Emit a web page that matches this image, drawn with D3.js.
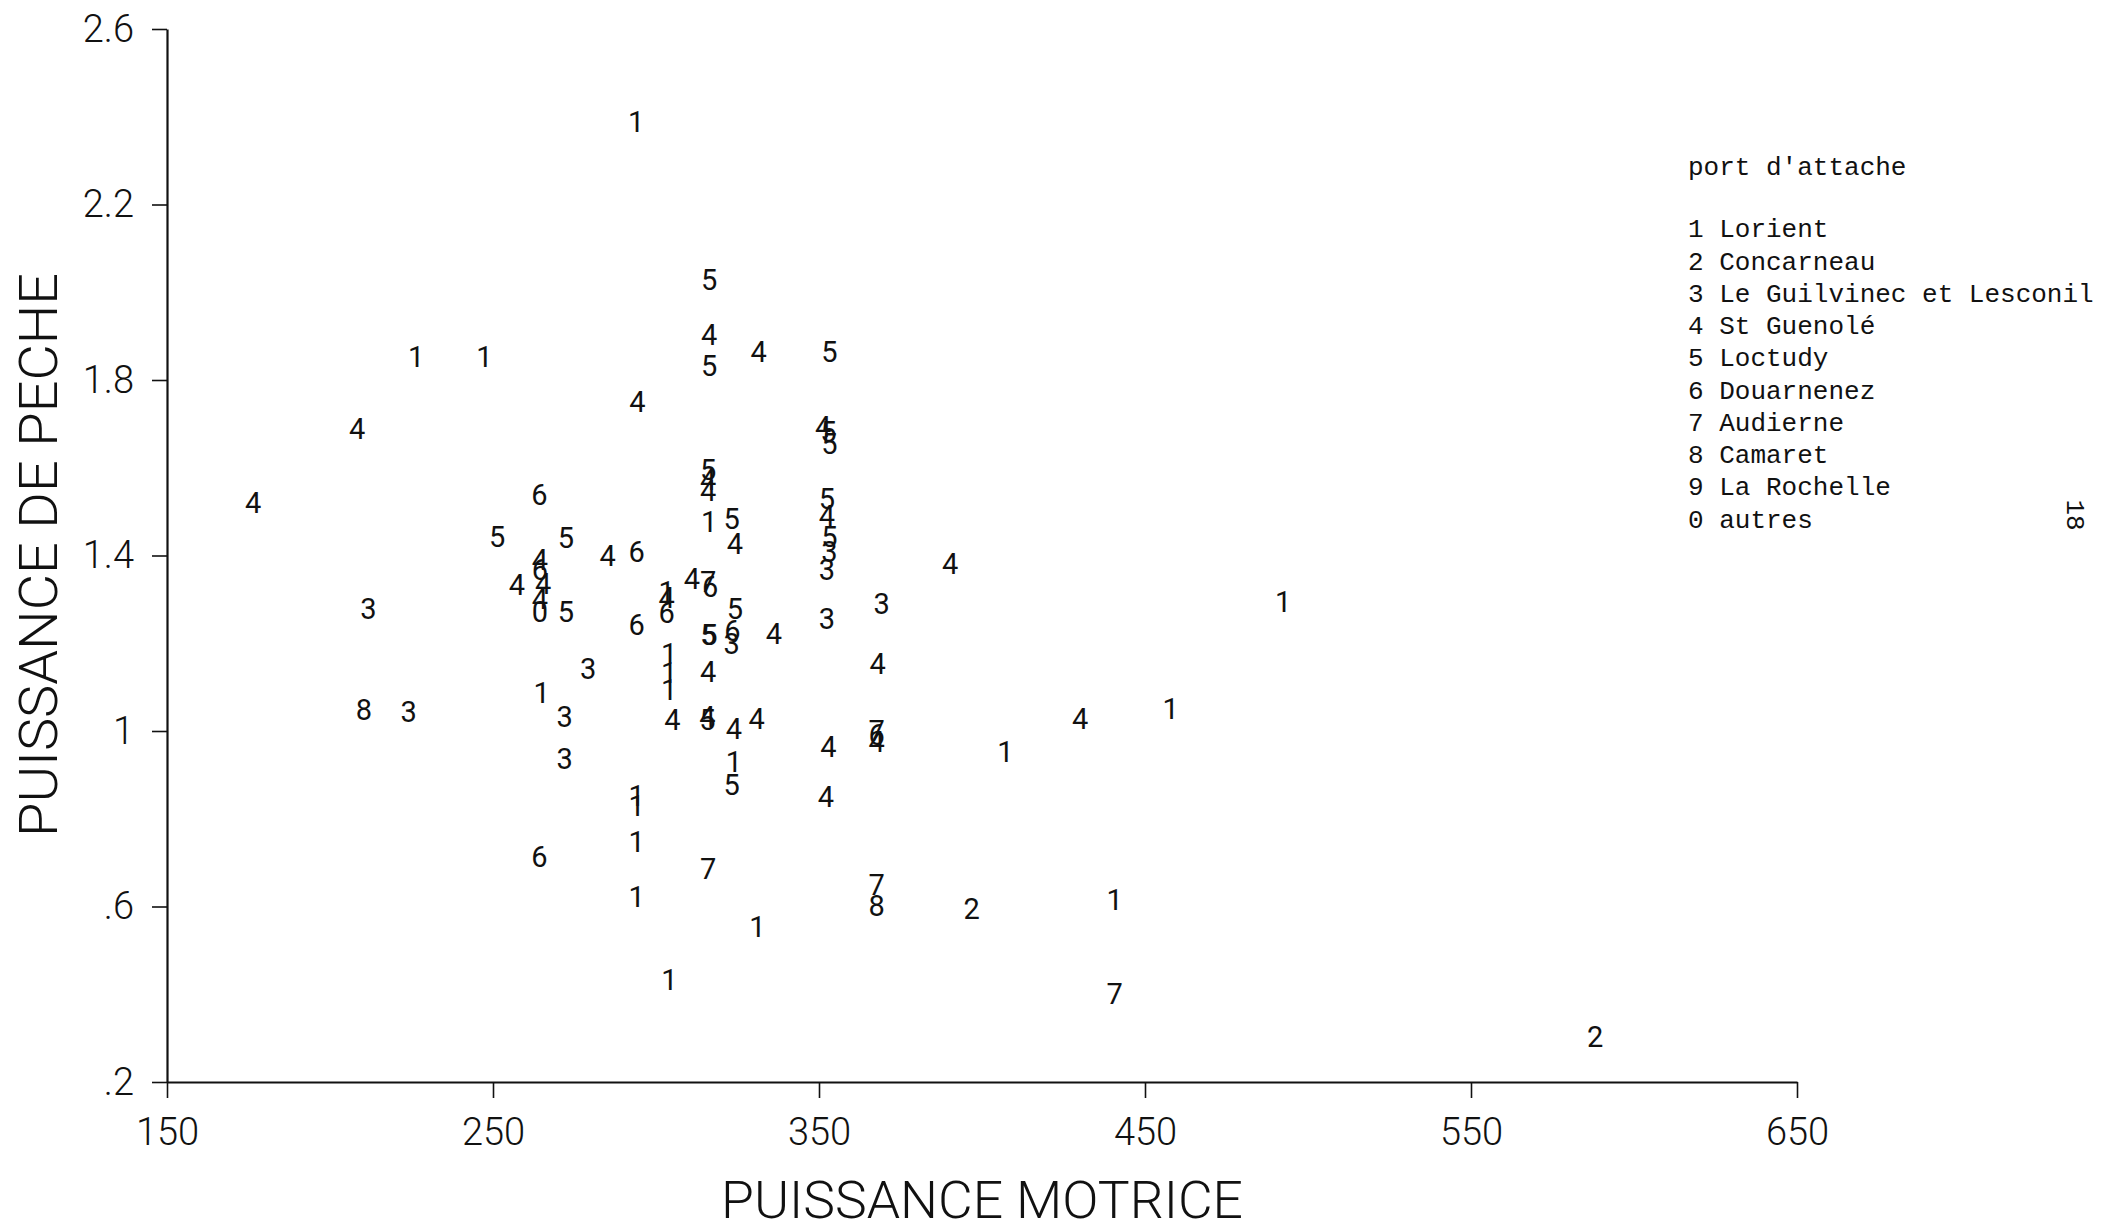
<!DOCTYPE html>
<html>
<head>
<meta charset="utf-8">
<script src="https://cdn.jsdelivr.net/npm/d3@7"></script>
<style>
  body { margin: 0; background: #fff; }
  svg { display: block; }
  .axis path, .axis line { stroke: #111; }
  .axis text { font-family: Roboto, "Liberation Sans", sans-serif; font-weight: 300; font-size: 38px; fill: #111; }
  .pt { font-family: Roboto, "Liberation Sans", sans-serif; font-size: 29px; fill: #111; }
  .title { font-family: Roboto, "Liberation Sans", sans-serif; font-weight: 300; fill: #111; }
  .legend { font-family: "Courier New", "Liberation Mono", monospace; font-size: 26px; fill: #111; }
</style>
</head>
<body>
<script>
// puissance motrice (x), puissance de peche (y), port d'attache (code)
var motrice = [293.9, 316.3, 316.3, 316.3, 331.5, 353.2, 226.4, 247.4, 294.3, 208.3,
  351.3, 352.9, 353.2, 176.4, 264.2, 316.0, 316.0, 316.0, 316.3, 323.2,
  324.2, 352.4, 352.4, 353.2, 353.2, 352.4, 390.2, 251.3, 272.4, 285.2,
  294.1, 264.4, 264.4, 257.3, 265.4, 264.4, 264.4, 272.4, 211.8, 311.0,
  316.0, 316.6, 303.3, 303.3, 303.3, 294.1, 324.2, 316.0, 316.4, 323.4,
  323.2, 336.2, 352.4, 369.2, 368.0, 304.0, 304.0, 304.0, 316.0, 279.2,
  264.9, 210.4, 224.1, 272.0, 272.0, 305.0, 315.8, 315.8, 323.9, 330.9,
  323.9, 323.2, 352.9, 367.7, 367.7, 367.7, 352.1, 294.1, 294.1, 294.1,
  264.2, 316.0, 294.1, 367.7, 367.7, 396.8, 331.1, 304.1, 492.4, 457.9,
  430.1, 407.2, 440.7, 440.7, 588.1];

var peche = [2.389, 2.028, 1.903, 1.834, 1.865, 1.865, 1.853, 1.853, 1.751, 1.690,
  1.694, 1.682, 1.656, 1.520, 1.538, 1.595, 1.572, 1.549, 1.477, 1.485,
  1.428, 1.530, 1.492, 1.443, 1.409, 1.367, 1.382, 1.443, 1.441, 1.401,
  1.409, 1.390, 1.367, 1.333, 1.337, 1.302, 1.272, 1.272, 1.280, 1.348,
  1.340, 1.329, 1.317, 1.303, 1.271, 1.242, 1.280, 1.219, 1.219, 1.230,
  1.200, 1.223, 1.257, 1.291, 1.154, 1.176, 1.134, 1.094, 1.135, 1.143,
  1.088, 1.048, 1.044, 1.033, 0.938, 1.025, 1.033, 1.025, 1.006, 1.029,
  0.930, 0.877, 0.964, 1.002, 0.991, 0.976, 0.850, 0.852, 0.830, 0.748,
  0.714, 0.687, 0.622, 0.649, 0.603, 0.596, 0.554, 0.433, 1.294, 1.052,
  1.029, 0.953, 0.615, 0.402, 0.303];

var port = ["1", "5", "4", "5", "4", "5", "1", "1", "4", "4",
  "4", "5", "5", "4", "6", "5", "4", "4", "1", "5",
  "4", "5", "4", "5", "3", "3", "4", "5", "5", "4",
  "6", "4", "6", "4", "4", "4", "0", "5", "3", "4",
  "7", "6", "1", "4", "6", "6", "5", "5", "5", "6",
  "3", "4", "3", "3", "4", "1", "1", "1", "4", "3",
  "1", "8", "3", "3", "3", "4", "4", "5", "4", "4",
  "1", "5", "4", "7", "6", "4", "4", "1", "1", "1",
  "6", "7", "1", "7", "8", "2", "1", "1", "1", "1",
  "4", "1", "1", "7", "2"];

var xTicks = [150, 250, 350, 450, 550, 650];
var yTicks = [0.2, 0.6, 1, 1.4, 1.8, 2.2, 2.6];

var legendCodes = ["1", "2", "3", "4", "5", "6", "7", "8", "9", "0"];
var legendNames = ["Lorient", "Concarneau", "Le Guilvinec et Lesconil", "St Guenolé",
  "Loctudy", "Douarnenez", "Audierne", "Camaret", "La Rochelle", "autres"];

var width = 2107,
    height = 1226;

var svg = d3.select("body").append("svg")
  .attr("width", width)
  .attr("height", height);

var x = d3.scaleLinear().domain([150, 650]).range([167, 1797]);
var y = d3.scaleLinear().domain([0.2, 2.6]).range([1082, 29]);

// axes
var xAxis = svg.append("g")
  .attr("class", "axis")
  .attr("transform", "translate(0,1082)")
  .call(d3.axisBottom(x).tickValues(xTicks).tickSize(16).tickSizeOuter(0).tickPadding(20)
    .tickFormat(d3.format("d")));

var yAxis = svg.append("g")
  .attr("class", "axis")
  .attr("transform", "translate(167,0)")
  .call(d3.axisLeft(y).tickValues(yTicks).tickSize(15).tickSizeOuter(0).tickPadding(18)
    .tickFormat(function(d) {return String(d).replace(/^0\./, ".");}));

svg.selectAll(".axis .domain").attr("stroke-width", 2.2);
svg.selectAll(".axis .tick line").attr("stroke-width", 1.6);

// the points, drawn as their port number
svg.append("g")
  .selectAll("text")
  .data(d3.range(motrice.length))
  .enter()
.append("text")
  .attr("class", "pt")
  .attr("x", function(i) {return x(motrice[i]);})
  .attr("y", function(i) {return y(peche[i]);})
  .attr("dy", "0.36em")
  .attr("text-anchor", "middle")
  .text(function(i) {return port[i];});

// axis titles
svg.append("text")
  .attr("class", "title")
  .attr("x", 982)
  .attr("y", 1218)
  .attr("text-anchor", "middle")
  .attr("font-size", 51)
  .attr("textLength", 522)
  .attr("lengthAdjust", "spacingAndGlyphs")
  .text("PUISSANCE MOTRICE");

svg.append("text")
  .attr("class", "title")
  .attr("transform", "translate(57,555) rotate(-90)")
  .attr("text-anchor", "middle")
  .attr("font-size", 53)
  .attr("textLength", 564)
  .attr("lengthAdjust", "spacingAndGlyphs")
  .text("PUISSANCE DE PECHE");

// legend
var legend = svg.append("g").attr("class", "legend");

legend.append("text")
  .attr("x", 1688)
  .attr("y", 175)
  .text("port d'attache");

legend.selectAll(".item")
  .data(legendCodes)
  .enter()
.append("text")
  .attr("class", "item")
  .attr("x", 1688)
  .attr("y", function(d, i) {return 237.3 + i * 32.27;})
  .attr("xml:space", "preserve")
  .text(function(d, i) {return d + " " + legendNames[i];});

// page number
svg.append("text")
  .attr("class", "legend")
  .attr("transform", "translate(2076,515) rotate(90)")
  .attr("text-anchor", "middle")
  .attr("dy", "0.35em")
  .attr("font-size", 31)
  .text("18");
</script>
</body>
</html>
